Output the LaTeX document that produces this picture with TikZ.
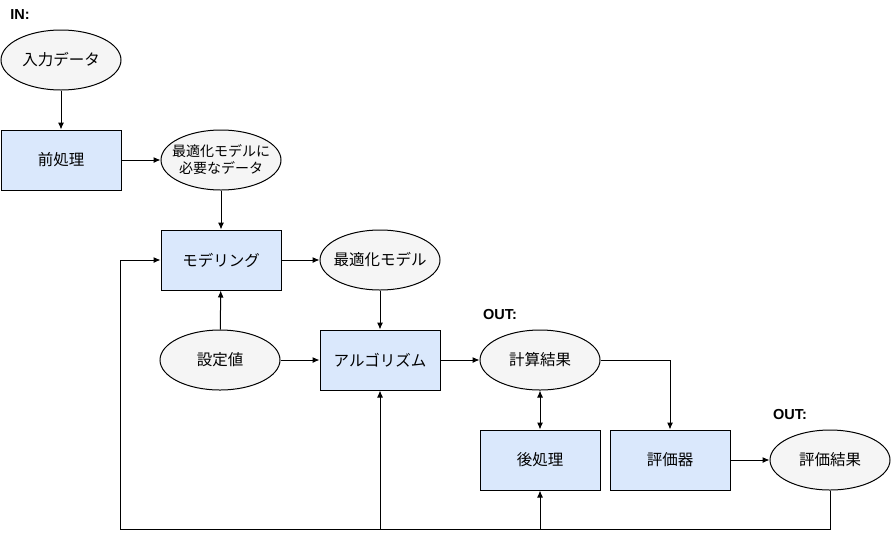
\documentclass[tikz,border=0pt]{standalone}
\usepackage{fontspec}
\setmainfont{Noto Sans CJK JP}
\newfontfamily\latinbf{Liberation Sans}
\usetikzlibrary{arrows.meta,shapes.geometric}
\definecolor{boxblue}{HTML}{DAE8FC}
\definecolor{ellgray}{HTML}{F5F5F5}

\begin{document}
\begin{tikzpicture}[x=1pt,y=-1pt,
  >={Latex[length=7pt,width=6pt]},
  every node/.style={font=\fontsize{15.5}{18}\selectfont},
  proc/.style={draw, fill=boxblue, line width=1pt, minimum width=120pt, minimum height=60pt, inner sep=0pt},
  data/.style={draw, ellipse, fill=ellgray, line width=1pt, minimum width=120pt, minimum height=60pt, inner xsep=-20pt, inner ysep=0pt},
  link/.style={->, line width=1pt},
  tag/.style={font=\latinbf\bfseries\fontsize{14.5}{16}\selectfont}]
\useasboundingbox (0,0) rectangle (891,539);

% labels
\node[tag] (inlbl) at (20,15) {IN:};
\node[tag] (outlbl1) at (500,315) {OUT:};
\node[tag] (outlbl2) at (790,414) {OUT:};

% nodes
\node[data] (indata) at (61,60) {入力データ};
\node[proc] (pre) at (61,160) {前処理};
\node[data, align=center, font=\fontsize{14}{17}\selectfont] (need) at (221,160) {最適化モデルに\\必要なデータ};
\node[proc] (model) at (221,260) {モデリング};
\node[data] (optmodel) at (380,260) {最適化モデル};
\node[data] (param) at (220,360) {設定値};
\node[proc] (algo) at (380,360) {アルゴリズム};
\node[data] (calc) at (540,360) {計算結果};
\node[proc] (post) at (540,460) {後処理};
\node[proc] (evaluator) at (670,460) {評価器};
\node[data] (evalres) at (830,460) {評価結果};

% flow
\draw[link] (indata) -- (pre);
\draw[link] (pre) -- (need);
\draw[link] (need) -- (model);
\draw[link] (model) -- (optmodel);
\draw[link] (optmodel) -- (algo);
\draw[link] (param) -- (model);
\draw[link] (param) -- (algo);
\draw[link] (algo) -- (calc);
\draw[link, <->] (calc) -- (post);
\draw[link] (calc.east) -| (evaluator.north);
\draw[link] (evaluator) -- (evalres);

% feedback
\coordinate (fb) at (120,529);
\draw[link] (evalres.south) |- (fb) |- (model.west);
\draw[link] (algo.south |- fb) -- (algo.south);
\draw[link] (post.south |- fb) -- (post.south);
\end{tikzpicture}
\end{document}
